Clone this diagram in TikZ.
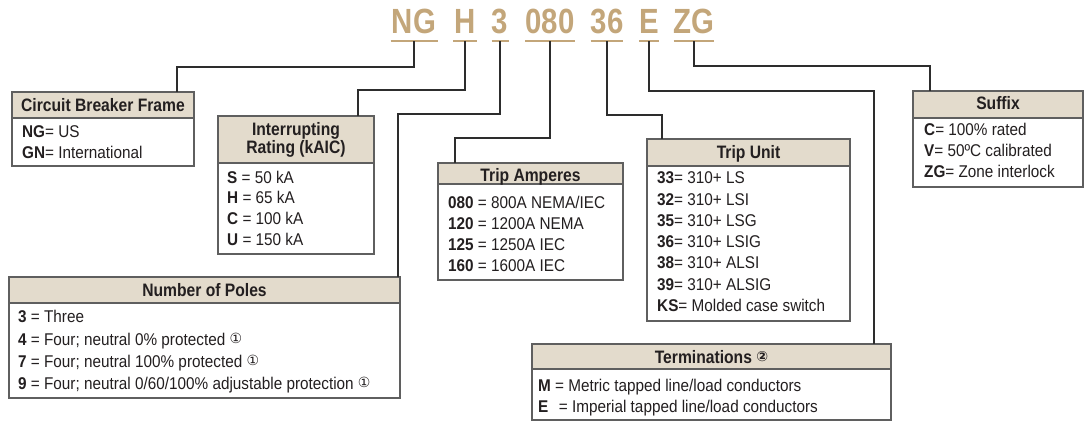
\documentclass[tikz,border=0pt]{standalone}
\usepackage{fontspec}
\setmainfont{Liberation Sans}[FakeStretch=0.9]
\newfontfamily\hdrfont{Liberation Sans}[FakeStretch=0.87]
\newfontfamily\codefont{Liberation Sans}[FakeStretch=0.84]
\newfontfamily\dejavu{DejaVu Sans}
\definecolor{codetan}{RGB}{195,166,122}
\definecolor{hdrfill}{RGB}{227,219,204}
\definecolor{boxgray}{RGB}{95,95,95}
\definecolor{linegray}{RGB}{45,45,45}
\definecolor{ink}{RGB}{35,31,32}
\newcommand\circnum[1]{{\dejavu\fontsize{14}{10}\selectfont\raisebox{1.5pt}{#1}}}
\tikzset{
  code/.style={font=\codefont\bfseries\fontsize{35}{35}\selectfont, text=codetan,
    inner sep=0pt, outer sep=0pt, text height=25pt, text depth=8pt, anchor=base},
  uline/.style={draw=codetan, line width=2pt},
  conn/.style={draw=linegray, line width=1.3pt},
  bodybox/.style={draw=boxgray, fill=white, line width=1.3pt, inner sep=0pt, outer sep=0pt, anchor=north west},
  hdrbox/.style={draw=boxgray, fill=hdrfill, line width=1.3pt, inner sep=0pt, outer sep=0pt, anchor=north west},
  hdrtext/.style={font=\hdrfont\bfseries\fontsize{18}{20}\selectfont, text=ink, inner sep=0pt, anchor=base},
  entry/.style={font=\fontsize{17}{20}\selectfont, text=ink, inner sep=0pt, anchor=base west},
}
\newcommand\infobox[6]{%
  \node[bodybox, minimum width=#4-#2, minimum height=#6-#3] (#1) at (#2,#3) {};
  \node[hdrbox, minimum width=#4-#2, minimum height=#5-#3] (#1h) at (#2,#3) {};
}
\begin{document}
\begin{tikzpicture}[x=1pt,y=-1pt]
\useasboundingbox (0,0) rectangle (1085,421);

% ---- code letters ----
\node[code, minimum width=47pt] (cNG) at (414,33) {NG};
\node[code, minimum width=24pt] (cH) at (465,33) {H};
\node[code, minimum width=17pt] (c3) at (500,33) {3};
\node[code, minimum width=50pt] (c080) at (550,33) {080};
\node[code, minimum width=32pt] (c36) at (607,33) {36};
\node[code, minimum width=19pt] (cE) at (649,33) {E};
\node[code, minimum width=39pt] (cZG) at (694,33) {ZG};
\foreach \c in {cNG,cH,c3,c080,c36,cE,cZG}
  \draw[uline] (\c.south west) -- (\c.south east);

% ---- boxes ----
\infobox{cbf}{12}{92}{194}{118}{166}
\infobox{ir}{218}{116}{374}{163}{254}
\infobox{ta}{438}{163}{623}{184}{280}
\infobox{tu}{647}{139}{850}{166}{321}
\infobox{np}{9}{277}{400}{303}{398}
\infobox{tm}{532}{344}{891}{369}{420}
\infobox{sf}{913}{91}{1083}{118}{187}

% ---- connectors ----
\coordinate (kNG) at (177,67);
\coordinate (kH) at (358,90);
\coordinate (k3) at (398,114);
\coordinate (k080) at (455,138);
\coordinate (k36) at (662,115);
\coordinate (kE) at (874,91);
\coordinate (kZG) at (930,66);
\draw[conn] (cNG.south) |- (kNG) -- (kNG |- cbfh.north);
\draw[conn] (cH.south) |- (kH) -- (kH |- irh.north);
\draw[conn] (c3.south) |- (k3) -- (k3 |- nph.north);
\draw[conn] (c080.south) |- (k080) -- (k080 |- tah.north);
\draw[conn] (c36.south) |- (k36) -- (k36 |- tuh.north);
\draw[conn] (cE.south) |- (kE) -- (kE |- tmh.north);
\draw[conn] (cZG.south) |- (kZG) -- (kZG |- sfh.north);

% ---- Circuit Breaker Frame ----
\node[hdrtext] (cbft) at (103,111) {Circuit Breaker Frame};
\node[entry] (cbf1) at (22,137) {\textbf{NG}= US};
\node[entry] (cbf2) at (22,158) {\textbf{GN}= International};

% ---- Interrupting Rating ----
\node[hdrtext] (irt1) at (296,135) {Interrupting};
\node[hdrtext] (irt2) at (296,153) {Rating (kAIC)};
\node[entry] (ir1) at (227,183) {\textbf{S} = 50 kA};
\node[entry] (ir2) at (227,203) {\textbf{H} = 65 kA};
\node[entry] (ir3) at (227,224) {\textbf{C} = 100 kA};
\node[entry] (ir4) at (227,245) {\textbf{U} = 150 kA};

% ---- Trip Amperes ----
\node[hdrtext] (tat) at (530.5,181) {Trip Amperes};
\node[entry] (ta1) at (448,208) {\textbf{080} = 800A NEMA/IEC};
\node[entry] (ta2) at (448,229) {\textbf{120} = 1200A NEMA};
\node[entry] (ta3) at (448,250) {\textbf{125} = 1250A IEC};
\node[entry] (ta4) at (448,271) {\textbf{160} = 1600A IEC};

% ---- Trip Unit ----
\node[hdrtext] (tut) at (748.5,158) {Trip Unit};
\node[entry] (tu1) at (657,183) {\textbf{33}= 310+ LS};
\node[entry] (tu2) at (657,205) {\textbf{32}= 310+ LSI};
\node[entry] (tu3) at (657,226) {\textbf{35}= 310+ LSG};
\node[entry] (tu4) at (657,247) {\textbf{36}= 310+ LSIG};
\node[entry] (tu5) at (657,268) {\textbf{38}= 310+ ALSI};
\node[entry] (tu6) at (657,290) {\textbf{39}= 310+ ALSIG};
\node[entry] (tu7) at (657,311) {\textbf{KS}= Molded case switch};

% ---- Number of Poles ----
\node[hdrtext] (npt) at (204.5,296) {Number of Poles};
\node[entry] (np1) at (18,322) {\textbf{3} = Three};
\node[entry] (np2) at (18,345) {\textbf{4} = Four; neutral 0\% protected \circnum{①}};
\node[entry] (np3) at (18,367) {\textbf{7} = Four; neutral 100\% protected \circnum{①}};
\node[entry] (np4) at (18,389) {\textbf{9} = Four; neutral 0/60/100\% adjustable protection \circnum{①}};

% ---- Terminations ----
\node[hdrtext] (tmt) at (711.5,363) {Terminations \circnum{②}};
\node[entry] (tm1) at (538,391) {\textbf{M} = Metric tapped line/load conductors};
\node[entry] (tm2) at (538,412) {\textbf{E}\hspace{10.5pt}= Imperial tapped line/load conductors};

% ---- Suffix ----
\node[hdrtext] (sft) at (998,109) {Suffix};
\node[entry] (sf1) at (924,135) {\textbf{C}= 100\% rated};
\node[entry] (sf2) at (924,156) {\textbf{V}= 50ºC calibrated};
\node[entry] (sf3) at (924,177) {\textbf{ZG}= Zone interlock};
\end{tikzpicture}
\end{document}
